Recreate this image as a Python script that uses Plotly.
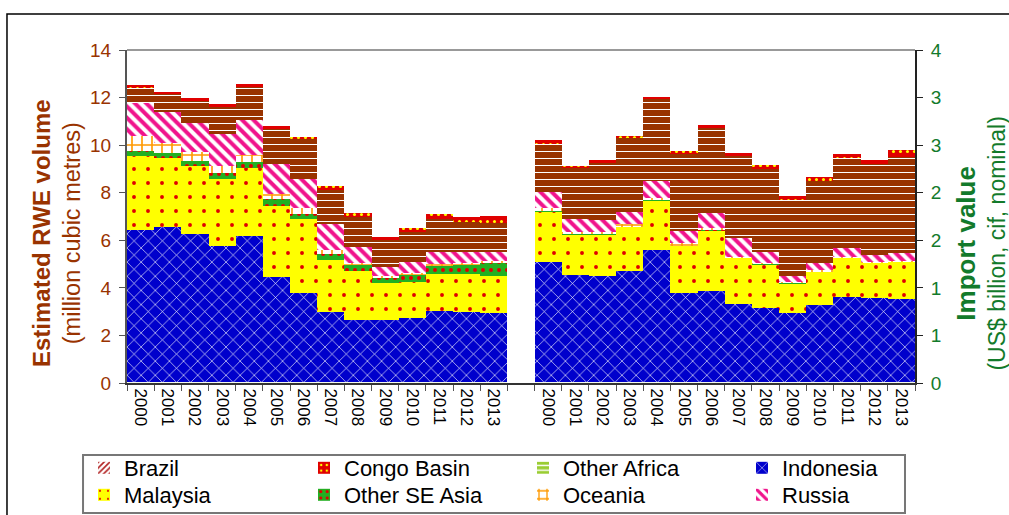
import plotly.graph_objects as go

# Years shown under each half of the chart
years = [str(y) for y in range(2000, 2014)]

# Estimated RWE volume by source (million cubic metres), left axis
vol_brazil = [0.03] * 14
vol_other_africa = [0.02] * 14
vol_indonesia = [6.37, 6.51, 6.21, 5.72, 6.14, 4.42, 3.72, 2.95, 2.60, 2.60, 2.70, 2.98, 2.92, 2.89]
vol_malaysia = [3.12, 2.91, 2.86, 2.81, 2.86, 2.99, 3.11, 2.17, 2.07, 1.54, 1.51, 1.54, 1.60, 1.57]
vol_other_se_asia = [0.21, 0.20, 0.21, 0.23, 0.24, 0.26, 0.22, 0.24, 0.27, 0.25, 0.32, 0.39, 0.43, 0.56]
vol_oceania = [0.65, 0.41, 0.37, 0.33, 0.30, 0.21, 0.24, 0.18, 0.04, 0.04, 0.04, 0.06, 0.03, 0.04]
vol_russia = [1.36, 1.30, 1.22, 1.31, 1.47, 1.26, 1.22, 1.09, 0.67, 0.41, 0.45, 0.50, 0.49, 0.41]
vol_china = [0.66, 0.77, 0.95, 1.17, 1.40, 1.49, 1.68, 1.43, 1.29, 1.12, 1.29, 1.37, 1.23, 1.22]
vol_congo = [0.11, 0.10, 0.10, 0.10, 0.10, 0.12, 0.12, 0.17, 0.17, 0.14, 0.16, 0.20, 0.23, 0.27]

# Import value by source (US$ billion, cif, nominal), right axis
val_brazil = [0.008] * 14
val_other_africa = [0.005] * 14
val_indonesia = [1.263, 1.123, 1.115, 1.165, 1.385, 0.938, 0.955, 0.815, 0.780, 0.720, 0.808, 0.895, 0.885, 0.868]
val_malaysia = [0.525, 0.428, 0.435, 0.465, 0.525, 0.493, 0.630, 0.490, 0.455, 0.315, 0.350, 0.410, 0.368, 0.395]
val_other_se_asia = [0.005] * 14
val_oceania = [0.038, 0.023, 0.023, 0.020, 0.020, 0.020, 0.023, 0.005, 0.013, 0.005, 0.010, 0.005, 0.005, 0.005]
val_russia = [0.163, 0.130, 0.123, 0.133, 0.175, 0.133, 0.165, 0.193, 0.108, 0.068, 0.080, 0.095, 0.070, 0.078]
val_china = [0.503, 0.535, 0.603, 0.773, 0.863, 0.808, 0.888, 0.860, 0.878, 0.798, 0.858, 0.938, 0.953, 1.010]
val_congo = [0.040, 0.025, 0.025, 0.023, 0.025, 0.030, 0.035, 0.038, 0.038, 0.040, 0.045, 0.050, 0.045, 0.073]

# Right-axis ticks every 0.5, printed with whole-number formatting
value_ticks = [0, 0.5, 1.0, 1.5, 2.0, 2.5, 3.0, 3.5]
value_tick_text = ["0", "1", "1", "2", "2", "3", "3", "4"]

vol_x = list(range(14))
val_x = [i + 15 for i in range(14)]

FONT = "Liberation Sans, Arial, sans-serif"
BROWN = "#993300"
GREEN = "#137A2B"

# Legend grid: 4 columns x 2 rows (left edge of each column, centre of each row, in px)
LEGEND_COLS = [84, 304, 523, 742]
LEGEND_ROWS = [468, 495]

# name, legend cell (col, row) or None, volume series, value series, pattern style
series = [
    ("Brazil", (0, 0), vol_brazil, val_brazil,
     dict(shape="/", fgcolor="#B22222", bgcolor="#FFFFFF", size=5, solidity=0.4)),
    ("Other Africa", (2, 0), vol_other_africa, val_other_africa,
     dict(shape="-", fgcolor="#FFFFFF", bgcolor="#9ACD32", size=6, solidity=0.3)),
    ("Indonesia", (3, 0), vol_indonesia, val_indonesia,
     dict(shape="x", fgcolor="#FFFFFF", bgcolor="#0000CC", size=10, solidity=0.12)),
    ("Malaysia", (0, 1), vol_malaysia, val_malaysia,
     dict(shape=".", fgcolor="#E00000", bgcolor="#FFFF00", size=14, solidity=0.06)),
    ("Other SE Asia", (1, 1), vol_other_se_asia, val_other_se_asia,
     dict(shape=".", fgcolor="#E00000", bgcolor="#22B022", size=8, solidity=0.2)),
    ("Oceania", (2, 1), vol_oceania, val_oceania,
     dict(shape="+", fgcolor="#FF9900", bgcolor="#FFFFFF", size=10, solidity=0.3)),
    ("Russia", (3, 1), vol_russia, val_russia,
     dict(shape="\\", fgcolor="#F0148C", bgcolor="#FFFFFF", size=8, solidity=0.5)),
    ("China", None, vol_china, val_china,
     dict(shape="-", fgcolor="#FFFFFF", bgcolor="#993300", size=7, solidity=0.15)),
    ("Congo Basin", (1, 0), vol_congo, val_congo,
     dict(shape=".", fgcolor="#FFFF00", bgcolor="#E00000", size=7, solidity=0.15)),
]

fig = go.Figure()
legend_layouts = {}
n_legend = 0
for name, cell, vol, val, pat in series:
    marker = dict(color=pat["bgcolor"], line=dict(width=0),
                  pattern=dict(fillmode="overlay", fgopacity=1, **pat))
    legend_id = "legend"
    if cell is not None:
        n_legend += 1
        legend_id = "legend" if n_legend == 1 else f"legend{n_legend}"
        col, row = cell
        legend_layouts[legend_id] = dict(
            xref="container", yref="container",
            x=LEGEND_COLS[col] / 1009, xanchor="left",
            y=1 - LEGEND_ROWS[row] / 515, yanchor="middle",
            font=dict(family=FONT, size=22, color="black"),
            bgcolor="rgba(0,0,0,0)", borderwidth=0,
        )
    fig.add_trace(go.Bar(
        x=vol_x, y=vol, name=name, legendgroup=name, legend=legend_id,
        showlegend=cell is not None, marker=marker, yaxis="y",
    ))
    fig.add_trace(go.Bar(
        x=val_x, y=val, name=name, legendgroup=name, legend=legend_id,
        showlegend=False, marker=marker, yaxis="y2",
    ))

fig.update_layout(
    width=1009, height=515,
    margin=dict(l=127, r=94, t=50, b=132, autoexpand=False),
    paper_bgcolor="white", plot_bgcolor="white",
    barmode="stack", bargap=0,
    font=dict(family=FONT, size=18, color="black"),
    showlegend=True,
    xaxis=dict(
        range=[-0.5, 28.5], tickmode="array",
        tickvals=vol_x + val_x, ticktext=years + years,
        tickangle=90, ticks="", showgrid=False, zeroline=False,
        showline=True, linecolor="#333333", linewidth=2,
        tickfont=dict(family=FONT, size=17, color="black"),
        minor=dict(tick0=-0.5, dtick=1, ticks="outside", ticklen=6,
                   tickcolor="#555555", tickwidth=1, showgrid=False),
    ),
    yaxis=dict(
        range=[0, 14], dtick=2, tickmode="linear", tick0=0,
        showgrid=False, zeroline=False,
        showline=True, linecolor="#555555", linewidth=2,
        ticks="outside", ticklen=6, tickcolor="#555555",
        ticklabelstandoff=4,
        tickfont=dict(family=FONT, size=19, color=BROWN),
    ),
    yaxis2=dict(
        range=[0, 3.5], overlaying="y", side="right",
        tickmode="array", tickvals=value_ticks, ticktext=value_tick_text,
        showgrid=False, zeroline=False,
        showline=True, linecolor="#222222", linewidth=2,
        ticks="outside", ticklen=6, tickcolor="#222222",
        ticklabelstandoff=4,
        tickfont=dict(family=FONT, size=19, color=GREEN),
    ),
    **legend_layouts,
)

# Axis titles
fig.add_annotation(
    xref="paper", yref="paper", x=-0.089, y=0.45, xanchor="center", yanchor="middle",
    text="<b><span style='font-size:24px'>Estimated RWE volume</span></b><br>(million cubic metres)",
    textangle=-90, showarrow=False,
    font=dict(family=FONT, size=23.5, color=BROWN),
)
fig.add_annotation(
    xref="paper", yref="paper", x=1.083, y=0.42, xanchor="center", yanchor="middle",
    text="<b><span style='font-size:26px'>Import value</span></b><br>(US$ billion, cif, nominal)",
    textangle=-90, showarrow=False,
    font=dict(family=FONT, size=23, color=GREEN),
)

# Plot-area top border, legend frame and outer chart frame
fig.add_shape(type="line", xref="paper", yref="paper", x0=0, x1=1, y0=1, y1=1,
              line=dict(color="#999999", width=2))
fig.add_shape(type="rect", xref="paper", yref="paper",
              x0=-0.0558, x1=0.9873, y0=-0.3904, y1=-0.2162,
              line=dict(color="#777777", width=2), fillcolor="rgba(0,0,0,0)")
fig.add_shape(type="rect", xref="paper", yref="paper",
              x0=-0.1523, x1=1.3, y0=-0.6, y1=1.108,
              line=dict(color="black", width=1.5), fillcolor="rgba(0,0,0,0)")

fig.write_html("out.html")
